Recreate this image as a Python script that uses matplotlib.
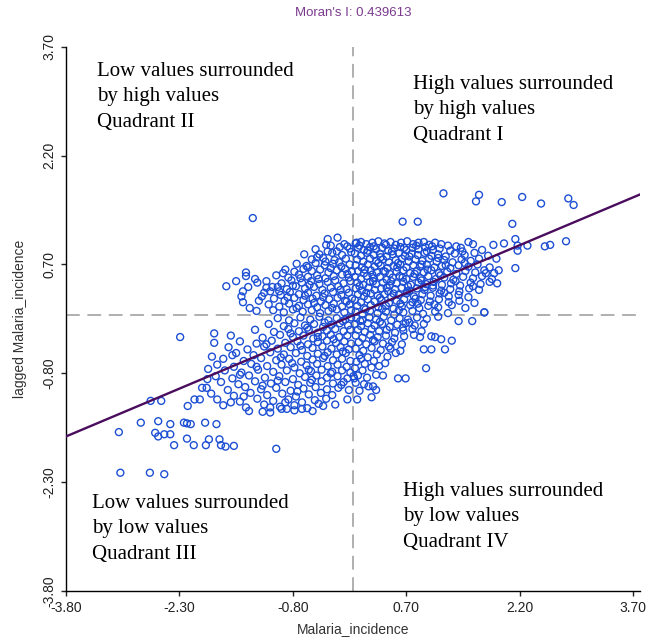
import numpy as np
import matplotlib
matplotlib.use("Agg")
import matplotlib.pyplot as plt

# Moran scatter: standardised incidence (x) vs spatially lagged incidence (y)
MORANS_I = 0.439613
TICKS = [-3.80, -2.30, -0.80, 0.70, 2.20, 3.70]

# points, grouped by quadrant
q1_pts = [
    (0.03,0.99),(0.10,1.01),(0.17,0.98),(0.25,1.00),(0.33,1.02),(0.41,0.99),(0.49,1.01),(0.56,0.97),(0.63,1.00),
    (0.71,1.02),(0.79,0.98),(0.86,1.00),(0.93,1.01),(1.00,0.97),(1.08,1.00),(1.16,0.98),(1.25,0.96),(1.52,1.01),(1.58,0.98),
    (0.06,0.93),(0.14,0.90),(0.22,0.94),(0.30,0.91),(0.38,0.93),(0.46,0.89),(0.54,0.92),(0.62,0.94),(0.70,0.90),
    (0.78,0.93),(0.86,0.91),(0.95,0.94),(1.05,0.90),(1.14,0.92),(1.28,0.89),(1.42,0.93),(1.70,0.90),
    (0.02,0.85),(0.10,0.82),(0.18,0.86),(0.27,0.83),(0.35,0.85),(0.44,0.81),(0.52,0.84),(0.60,0.86),(0.68,0.82),
    (0.77,0.85),(0.85,0.83),(0.94,0.86),(1.03,0.82),(1.12,0.84),(1.22,0.81),(1.34,0.85),(1.47,0.83),(1.60,0.86),(1.78,0.82),
    (0.05,0.77),(0.13,0.74),(0.22,0.78),(0.30,0.75),(0.39,0.77),(0.47,0.73),(0.56,0.76),(0.64,0.78),(0.73,0.74),
    (0.82,0.77),(0.91,0.75),(1.00,0.78),(1.10,0.74),(1.20,0.76),(1.31,0.73),(1.43,0.77),(1.55,0.75),(1.66,0.78),
    (0.03,0.69),(0.11,0.66),(0.19,0.70),(0.28,0.67),(0.36,0.69),(0.45,0.65),(0.53,0.68),(0.62,0.70),(0.70,0.66),
    (0.79,0.69),(0.88,0.67),(0.97,0.70),(1.07,0.66),(1.17,0.68),(1.28,0.65),(1.39,0.69),(1.52,0.67),(1.64,0.70),(1.80,0.66),
    (0.06,0.61),(0.14,0.58),(0.23,0.62),(0.31,0.59),(0.40,0.61),(0.48,0.57),(0.57,0.60),(0.66,0.62),(0.75,0.58),
    (0.84,0.61),(0.93,0.59),(1.03,0.62),(1.13,0.58),(1.24,0.60),(1.36,0.57),(1.48,0.61),(1.61,0.59),(1.73,0.62),(1.86,0.58),
    (0.02,0.53),(0.10,0.50),(0.18,0.54),(0.27,0.51),(0.35,0.53),(0.44,0.49),(0.52,0.52),(0.61,0.54),(0.70,0.50),
    (0.79,0.53),(0.89,0.51),(0.99,0.54),(1.09,0.50),(1.20,0.52),(1.32,0.49),(1.45,0.53),(1.58,0.51),(1.70,0.54),(1.83,0.50),
    (0.05,0.45),(0.13,0.42),(0.22,0.46),(0.30,0.43),(0.39,0.45),(0.48,0.41),(0.57,0.44),(0.66,0.46),(0.76,0.42),
    (0.86,0.45),(0.96,0.43),(1.06,0.46),(1.17,0.42),(1.29,0.44),(1.41,0.41),(1.55,0.45),(1.68,0.43),(1.80,0.46),
    (0.03,0.37),(0.11,0.34),(0.20,0.38),(0.28,0.35),(0.37,0.37),(0.46,0.33),(0.55,0.36),(0.64,0.38),(0.74,0.34),
    (0.84,0.37),(0.94,0.35),(1.05,0.38),(1.16,0.34),(1.28,0.36),(1.40,0.33),(1.53,0.37),(1.66,0.35),
    (0.06,0.29),(0.14,0.26),(0.23,0.30),(0.32,0.27),(0.41,0.29),(0.50,0.25),(0.60,0.28),(0.70,0.30),(0.80,0.26),
    (0.91,0.29),(1.02,0.27),(1.14,0.30),(1.26,0.26),(1.39,0.28),(1.52,0.25),
    (0.02,0.21),(0.10,0.18),(0.19,0.22),(0.28,0.19),(0.37,0.21),(0.47,0.17),(0.57,0.20),(0.67,0.22),(0.78,0.18),
    (0.89,0.21),(1.01,0.19),(1.13,0.22),(1.26,0.18),(1.40,0.20),(1.60,0.17),
    (0.05,0.13),(0.14,0.10),(0.23,0.14),(0.33,0.11),(0.43,0.13),(0.53,0.09),(0.64,0.12),(0.75,0.14),(0.87,0.10),
    (0.99,0.13),(1.12,0.11),(1.30,0.14),(1.48,0.10),
    (0.03,0.05),(0.12,0.02),(0.22,0.06),(0.32,0.03),(0.43,0.05),(0.54,0.01),(0.66,0.04),(0.78,0.06),(0.92,0.02),
    (1.08,0.05),(1.25,0.03),(1.73,0.04),
    # in-between points of the dense core
    (0.08,0.96),(0.19,0.89),(0.27,0.95),(0.36,0.80),(0.43,0.97),(0.51,0.88),(0.59,0.72),(0.67,0.93),(0.74,0.81),
    (0.83,0.96),(0.90,0.70),(0.97,0.88),(1.04,0.95),(1.12,0.79),(0.15,0.63),(0.25,0.56),(0.33,0.72),(0.42,0.60),
    (0.50,0.47),(0.58,0.66),(0.65,0.52),(0.72,0.40),(0.81,0.57),(0.90,0.48),(0.98,0.63),(1.05,0.41),(1.15,0.55),
    (1.22,0.69),(0.08,0.40),(0.17,0.31),(0.26,0.47),(0.35,0.24),(0.44,0.38),(0.53,0.30),(0.62,0.16),(0.71,0.33),
    (0.82,0.23),(0.95,0.39),(1.07,0.15),(1.20,0.31),(1.35,0.47),(1.47,0.72),(1.58,0.40),(1.75,0.58),(1.92,0.62),
    (1.90,0.44),(0.16,0.08),(0.38,0.09),(0.60,0.07),(0.85,0.16),(1.44,0.88),(1.36,0.95),
    # sparse upper right
    (1.19,1.68),(1.66,1.66),(1.62,1.57),(1.96,1.56),(2.23,1.63),(2.48,1.54),(2.84,1.61),(2.91,1.52),
    (0.65,1.29),(0.85,1.29),(2.10,1.26),(2.14,1.05),(2.17,0.96),(2.17,0.89),(2.30,0.96),(2.53,0.95),
    (2.60,0.97),(2.81,1.02),(2.14,0.65),(1.99,0.99),(1.85,0.97),(1.89,0.78),(0.04,1.00),
]

q2_pts = [
    (-0.30,0.96),(-0.12,0.98),(-0.34,1.05),(-0.21,1.07),(-0.34,0.88),(-0.18,0.94),(-0.05,0.92),
    (-0.45,0.84),(-0.28,0.86),(-0.15,0.83),(-0.03,0.87),
    (-0.55,0.77),(-0.40,0.79),(-0.25,0.76),(-0.10,0.78),
    (-0.75,0.71),(-0.62,0.68),(-0.50,0.72),(-0.38,0.69),(-0.27,0.71),(-0.16,0.67),(-0.05,0.70),
    (-0.90,0.63),(-0.78,0.60),(-0.66,0.64),(-0.55,0.61),(-0.44,0.63),(-0.33,0.59),(-0.22,0.62),(-0.11,0.64),(-0.02,0.60),
    (-1.02,0.55),(-0.86,0.52),(-0.72,0.56),(-0.60,0.53),(-0.48,0.55),(-0.37,0.51),(-0.26,0.54),(-0.15,0.56),(-0.06,0.52),
    (-1.15,0.47),(-0.95,0.44),(-0.82,0.48),(-0.68,0.45),(-0.56,0.47),(-0.45,0.43),(-0.34,0.46),(-0.24,0.48),(-0.13,0.44),(-0.04,0.47),
    (-1.00,0.39),(-0.88,0.36),(-0.76,0.40),(-0.64,0.37),(-0.52,0.39),(-0.41,0.35),(-0.30,0.38),(-0.20,0.40),(-0.09,0.36),
    (-1.18,0.31),(-0.96,0.28),(-0.84,0.32),(-0.72,0.29),(-0.60,0.31),(-0.49,0.27),(-0.38,0.30),(-0.27,0.32),(-0.16,0.28),(-0.06,0.31),
    (-1.05,0.23),(-0.91,0.20),(-0.78,0.24),(-0.66,0.21),(-0.54,0.23),(-0.43,0.19),(-0.32,0.22),(-0.21,0.24),(-0.11,0.20),(-0.02,0.23),
    (-1.12,0.15),(-0.98,0.12),(-0.85,0.16),(-0.72,0.13),(-0.60,0.15),(-0.48,0.11),(-0.37,0.14),(-0.26,0.16),(-0.15,0.12),(-0.05,0.15),
    (-1.06,0.07),(-0.92,0.04),(-0.80,0.08),(-0.67,0.05),(-0.55,0.07),(-0.44,0.03),(-0.33,0.06),(-0.22,0.08),(-0.12,0.04),(-0.03,0.07),
    (-0.08,0.95),(-0.22,0.88),(-0.37,0.74),(-0.48,0.80),(-0.60,0.66),(-0.70,0.51),(-0.80,0.41),(-0.93,0.58),(-0.58,0.42),
    (-0.46,0.50),(-0.30,0.65),(-0.19,0.73),(-0.08,0.57),(-0.40,0.25),(-0.52,0.17),(-0.64,0.27),(-0.75,0.10),(-0.87,0.25),
    (-0.98,0.33),(-0.28,0.10),(-0.17,0.35),(-0.09,0.19),(-1.25,0.20),(-1.15,0.38),(-0.65,0.84),(-0.36,0.97),(-0.50,0.91),
    # sparse left part
    (-1.33,1.34),(-1.68,0.40),(-1.55,0.47),(-1.42,0.59),(-1.42,0.54),(-1.30,0.50),(-1.27,0.45),(-1.46,0.33),
    (-1.39,0.39),(-1.48,0.26),(-1.46,0.18),(-1.21,0.26),(-1.10,0.33),(-1.07,0.39),(-1.37,0.10),(-1.28,0.06),
]

q3_pts = [
    (-1.00,-0.04),(-0.85,-0.07),(-0.70,-0.03),(-0.57,-0.06),(-0.45,-0.02),(-0.33,-0.07),(-0.22,-0.04),(-0.11,-0.06),(-0.03,-0.03),
    (-1.12,-0.12),(-0.92,-0.15),(-0.78,-0.11),(-0.64,-0.14),(-0.52,-0.12),(-0.40,-0.16),(-0.29,-0.13),(-0.18,-0.11),(-0.07,-0.14),
    (-1.30,-0.20),(-1.05,-0.23),(-0.86,-0.19),(-0.72,-0.22),(-0.59,-0.20),(-0.47,-0.24),(-0.35,-0.21),(-0.24,-0.19),(-0.13,-0.22),(-0.04,-0.20),
    (-1.62,-0.28),(-1.20,-0.31),(-0.97,-0.27),(-0.80,-0.30),(-0.66,-0.28),(-0.53,-0.32),(-0.41,-0.29),(-0.30,-0.27),(-0.19,-0.30),(-0.08,-0.28),
    (-1.50,-0.36),(-1.28,-0.39),(-1.08,-0.35),(-0.90,-0.38),(-0.74,-0.36),(-0.60,-0.40),(-0.47,-0.37),(-0.35,-0.35),(-0.23,-0.38),(-0.12,-0.36),(-0.03,-0.39),
    (-1.65,-0.44),(-1.40,-0.47),(-1.18,-0.43),(-1.00,-0.46),(-0.83,-0.44),(-0.68,-0.48),(-0.54,-0.45),(-0.41,-0.43),(-0.29,-0.46),(-0.17,-0.44),(-0.06,-0.47),
    (-1.55,-0.52),(-1.32,-0.55),(-1.10,-0.51),(-0.92,-0.54),(-0.76,-0.52),(-0.61,-0.56),(-0.47,-0.53),(-0.34,-0.51),(-0.22,-0.54),(-0.10,-0.52),
    (-1.72,-0.60),(-1.45,-0.63),(-1.22,-0.59),(-1.02,-0.62),(-0.85,-0.60),(-0.69,-0.64),(-0.54,-0.61),(-0.40,-0.59),(-0.27,-0.62),(-0.15,-0.60),(-0.04,-0.63),
    (-1.80,-0.68),(-1.58,-0.71),(-1.35,-0.67),(-1.14,-0.70),(-0.95,-0.68),(-0.78,-0.72),(-0.62,-0.69),(-0.48,-0.67),(-0.34,-0.70),(-0.21,-0.68),(-0.09,-0.71),
    (-1.70,-0.76),(-1.48,-0.79),(-1.26,-0.75),(-1.06,-0.78),(-0.88,-0.76),(-0.71,-0.80),(-0.56,-0.77),(-0.42,-0.75),(-0.28,-0.78),(-0.15,-0.76),(-0.04,-0.79),
    (-1.82,-0.84),(-1.60,-0.87),(-1.38,-0.83),(-1.17,-0.86),(-0.98,-0.84),(-0.80,-0.88),(-0.64,-0.85),(-0.49,-0.83),(-0.35,-0.86),(-0.21,-0.84),(-0.08,-0.87),
    (-1.75,-0.92),(-1.52,-0.95),(-1.30,-0.91),(-1.09,-0.94),(-0.90,-0.92),(-0.73,-0.96),(-0.57,-0.93),(-0.42,-0.91),(-0.27,-0.94),(-0.13,-0.92),
    (-2.00,-1.00),(-1.66,-1.03),(-1.43,-0.99),(-1.22,-1.02),(-1.02,-1.00),(-0.83,-1.04),(-0.66,-1.01),(-0.50,-0.99),(-0.35,-1.02),(-0.20,-1.00),(-0.06,-1.03),
    (-1.88,-1.08),(-1.58,-1.11),(-1.36,-1.07),(-1.14,-1.10),(-0.94,-1.08),(-0.76,-1.12),(-0.59,-1.09),(-0.43,-1.07),(-0.28,-1.10),
    (-1.80,-1.16),(-1.50,-1.19),(-1.27,-1.15),(-1.06,-1.18),(-0.86,-1.16),(-0.68,-1.20),(-0.51,-1.17),(-0.36,-1.15),
    (-1.72,-1.24),(-1.42,-1.27),(-1.18,-1.23),(-0.97,-1.26),(-0.78,-1.24),(-0.61,-1.28),(-0.40,-1.25),
    (-1.38,-1.32),(-1.20,-1.33),(-0.78,-1.31),
    (-0.14,-0.08),(-0.38,-0.10),(-0.61,-0.17),(-0.83,-0.25),(-1.15,-0.40),(-0.26,-0.33),(-0.47,-0.30),(-0.70,-0.42),
    (-0.96,-0.58),(-0.14,-0.50),(-0.38,-0.56),(-0.59,-0.75),(-0.81,-0.66),(-1.28,-0.71),(-1.50,-0.82),(-0.30,-0.80),
    (-0.55,-0.89),(-0.74,-1.05),(-1.00,-0.90),(-1.20,-0.97),(-1.45,-1.12),(-1.62,-1.20),(-0.16,-0.96),(-0.46,-1.22),
    (-0.90,-1.20),(-1.10,-1.27),(-1.60,-0.55),(-1.92,-0.74),
    # sparse far lower left
    (-2.29,-0.30),(-3.10,-1.61),(-2.81,-1.48),(-2.58,-1.46),(-2.62,-1.62),(-2.58,-1.67),(-2.50,-1.64),(-2.42,-1.64),
    (-2.42,-1.50),(-2.37,-1.79),(-2.24,-1.48),(-2.20,-1.49),(-2.15,-1.50),(-2.20,-1.70),(-2.11,-1.79),(-1.96,-1.48),
    (-1.81,-1.50),(-1.95,-1.79),(-1.91,-1.71),(-1.77,-1.71),(-1.75,-1.79),(-1.69,-1.81),(-1.58,-1.80),(-1.02,-1.84),
    (-3.08,-2.17),(-2.69,-2.17),(-2.50,-2.19),(-2.68,-1.18),(-2.54,-1.18),(-2.19,-1.25),(-2.10,-1.16),(-2.03,-1.16),
    (-1.87,-0.57),(-1.84,-0.25),(-1.84,-0.38),(-1.94,-1.00),(-1.93,-0.88),(-0.54,-1.32),(-0.68,-1.29),(-0.24,-1.23),
    (-1.10,-1.34),(-0.95,-1.29),(-0.88,-1.29),(-0.08,-1.16),
]

q4_pts = [
    (0.04,-0.04),(0.12,-0.07),(0.21,-0.03),(0.30,-0.06),(0.40,-0.02),(0.50,-0.07),(0.61,-0.04),(0.72,-0.06),(0.84,-0.03),(0.97,-0.05),(1.12,-0.02),
    (0.02,-0.12),(0.10,-0.15),(0.19,-0.11),(0.28,-0.14),(0.38,-0.12),(0.48,-0.16),(0.58,-0.13),(0.69,-0.11),(0.81,-0.14),(0.93,-0.12),
    (0.06,-0.20),(0.15,-0.23),(0.24,-0.19),(0.34,-0.22),(0.44,-0.20),(0.55,-0.24),(0.66,-0.21),(0.78,-0.19),(0.90,-0.22),
    (0.03,-0.28),(0.12,-0.31),(0.22,-0.27),(0.32,-0.30),(0.43,-0.28),(0.54,-0.32),(0.67,-0.29),(0.80,-0.27),
    (0.07,-0.37),(0.17,-0.40),(0.28,-0.36),(0.39,-0.39),(0.51,-0.37),(0.64,-0.40),
    (0.03,-0.46),(0.13,-0.49),(0.24,-0.45),(0.36,-0.48),(0.49,-0.46),(0.62,-0.49),
    (0.08,-0.55),(0.19,-0.58),(0.31,-0.54),(0.45,-0.57),
    (0.04,-0.64),(0.15,-0.67),(0.27,-0.63),(0.42,-0.66),
    (0.02,-0.73),(0.12,-0.76),(0.24,-0.72),
    (0.06,-0.83),(0.18,-0.86),(0.30,-0.82),(0.00,-0.84),(0.01,-0.87),
    (0.03,-0.93),(0.14,-0.95),(0.08,-1.04),(0.30,-1.03),
    (0.09,-0.08),(0.35,-0.09),(0.65,-0.17),(0.26,-0.34),(0.47,-0.43),(0.10,-0.60),(0.34,-0.70),(0.20,-0.98),
    (0.74,-0.10),(0.88,-0.30),(0.56,-0.52),
    # sparse right part
    (1.73,0.04),(1.39,-0.08),(1.57,-0.08),(1.30,-0.35),(1.21,-0.47),(1.16,-0.33),(1.03,-0.29),(1.08,-0.30),
    (0.93,-0.47),(1.03,-0.47),(0.96,-0.73),(0.59,-0.87),(0.69,-0.87),(0.24,-1.13),(0.05,-1.16),(0.26,-0.98),(0.39,-0.83),
]

quad_text = [
    "Low values surrounded\nby high values\nQuadrant II",
    "High values surrounded\nby high values\nQuadrant I",
    "Low values surrounded\nby low values\nQuadrant III",
    "High values surrounded\nby low values\nQuadrant IV",
]

pts = np.array(q1_pts + q2_pts + q3_pts + q4_pts)
x, y = pts[:, 0], pts[:, 1]

plt.rcParams["font.family"] = ["Liberation Sans", "DejaVu Sans"]

fig = plt.figure(figsize=(6.46, 6.41), dpi=100)
ax = fig.add_axes([0.102, 0.078, 0.889, 0.849])

ax.axvline(0, color="#9a9a9a", lw=1.1, dashes=(9, 5), zorder=1)
ax.axhline(0, color="#9a9a9a", lw=1.1, dashes=(9, 5), zorder=1)

ax.scatter(x, y, s=25, facecolors="none", edgecolors="#1d4fd4", linewidths=1.0, zorder=2)

# regression line, slope = Moran's I
xl = np.array([-3.8, 3.79])
ax.plot(xl, MORANS_I * xl, color="#4a0c5c", lw=1.7, zorder=3)

ax.set_xlim(-3.8, 3.79)
ax.set_ylim(-3.8, 3.7)
ax.set_xticks(TICKS)
ax.set_yticks(TICKS)
ax.set_xticklabels([f"{t:.2f}" for t in TICKS])
ax.set_yticklabels([f"{t:.2f}" for t in TICKS], rotation=90, va="center")
ax.tick_params(direction="out", length=3.5, width=1, labelsize=10, colors="#222222")
for side in ["top", "right"]:
    ax.spines[side].set_visible(False)
for side in ["left", "bottom"]:
    ax.spines[side].set_linewidth(1.0)

ax.set_xlabel("Malaria_incidence", fontsize=10, color="#333333", labelpad=5)
ax.set_ylabel("lagged Malaria_incidence", fontsize=10, color="#333333", labelpad=11)
ax.set_title(f"Moran's I: {MORANS_I}", fontsize=9.5, color="#7b3a8e", pad=22)

serif = dict(family="Liberation Serif", fontsize=15, va="top", ha="left",
             linespacing=1.45, transform=ax.transAxes)
ax.text(0.054, 0.972, quad_text[0], **serif)
ax.text(0.604, 0.948, quad_text[1], **serif)
ax.text(0.045, 0.178, quad_text[2], **serif)
ax.text(0.587, 0.200, quad_text[3], **serif)

fig.savefig("out.png", dpi=100)
